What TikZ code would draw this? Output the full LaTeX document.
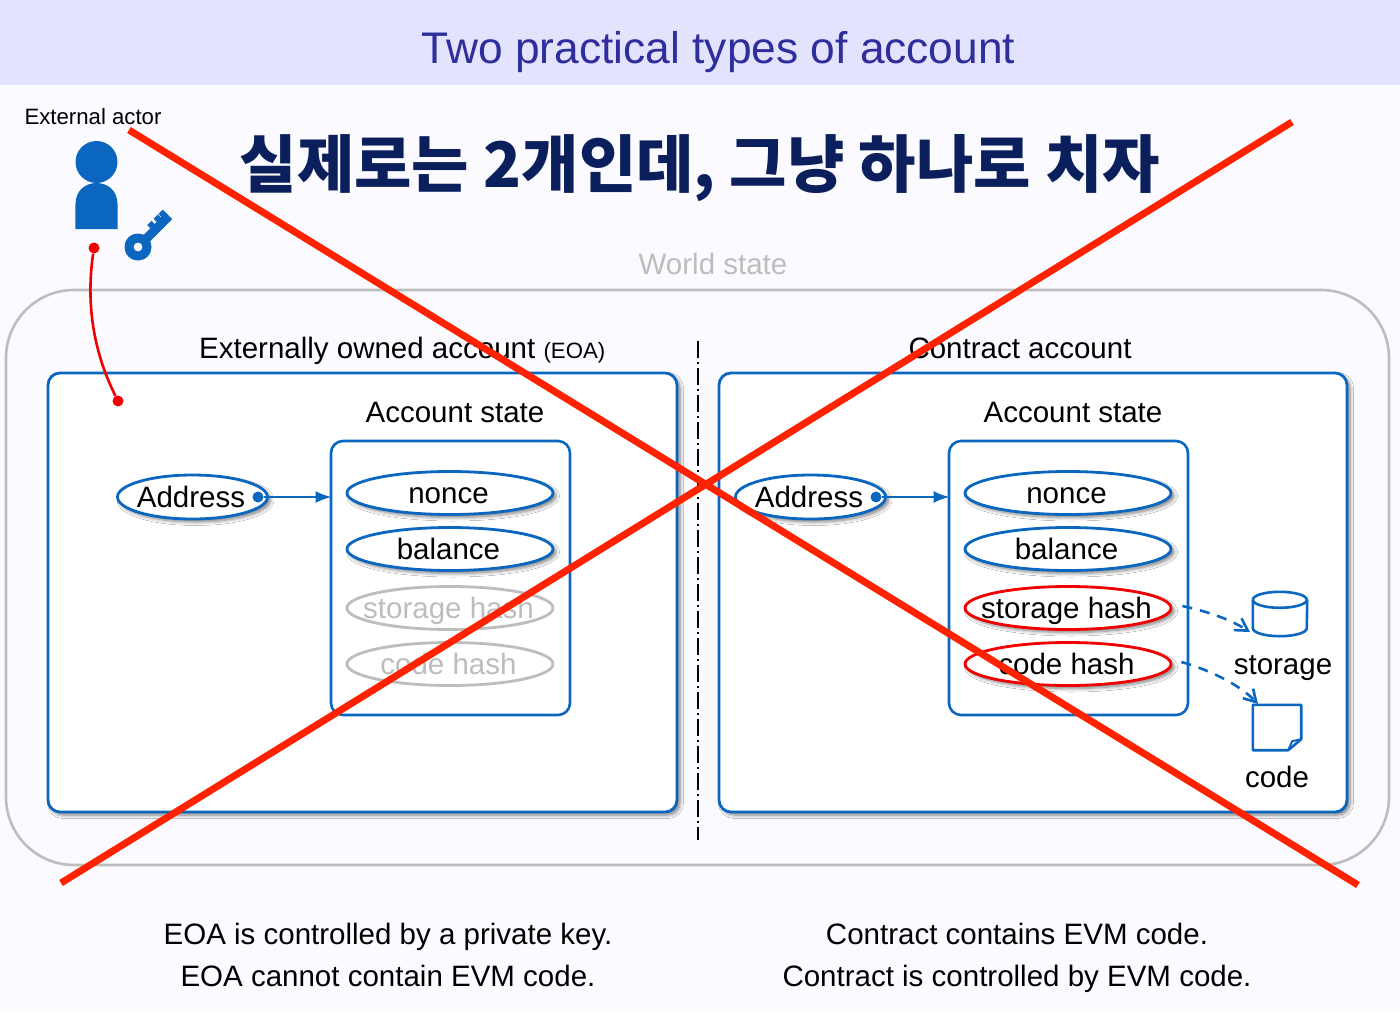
\documentclass[tikz,border=0pt]{standalone}
\usepackage{fontspec}
\setmainfont{Liberation Sans}
\newfontfamily\cjk{Noto Sans CJK KR}
\usetikzlibrary{arrows.meta,shapes.geometric,shadows.blur,calc}
\definecolor{bgc}{HTML}{FBFBFF}
\definecolor{headc}{HTML}{E3E3FD}
\definecolor{titlec}{HTML}{2E2E9C}
\definecolor{blu}{HTML}{0A66BE}
\definecolor{gry}{HTML}{BDBDBD}
\definecolor{rd}{HTML}{F00000}
\definecolor{crossc}{HTML}{FF2200}
\definecolor{navy}{HTML}{0A1F5C}
\newcommand{\fs}[1]{\fontsize{#1}{#1}\selectfont}
\newcommand{\ot}[1]{\makebox[0pt]{#1\hspace{3pt}}}
\tikzset{
  shad/.style={blur shadow={shadow xshift=3pt,shadow yshift=-3pt,shadow blur radius=3.5pt,shadow blur steps=6,shadow opacity=50}},
  txt/.style={anchor=base,inner sep=0pt,font=\fs{29.5}},
  panel/.style={draw=blu,line width=2.8pt,rounded corners=12pt,fill=white,shad,inner sep=0pt},
  statebox/.style={draw=blu,line width=2.6pt,rounded corners=12pt,fill=white,inner sep=0pt},
  oval/.style={ellipse,inner sep=0pt,minimum width=206pt,minimum height=43pt,line width=2.8pt,font=\fs{29.5},text height=20pt,text depth=0pt},
  field/.style={oval,draw=blu,fill=white,shad},
  ghost/.style={oval,draw=gry,text=gry},
  hot/.style={oval,draw=rd,fill=white,shad},
  addr/.style={oval,draw=blu,fill=white,shad,minimum width=150pt,minimum height=44pt},
  flow/.style={draw=blu,line width=2.6pt,shorten >=-2pt,-{Latex[length=16pt,width=12pt]}},
  lnk/.style={draw=blu,line width=2.6pt,dash pattern=on 10pt off 8pt,-{Straight Barb[length=12pt,width=14pt]}},
  cross/.style={draw=crossc,line width=7pt},
  dotb/.style={circle,fill=blu,inner sep=0pt,minimum size=11pt},
  dotr/.style={circle,fill=rd,inner sep=0pt,minimum size=11pt},
  ic/.style={draw=blu,line width=2.6pt,line join=round},
}
\begin{document}
\begin{tikzpicture}[x=1pt,y=-1pt]
\useasboundingbox (0,0) rectangle (1400,1012);
\fill[bgc] (0,0) rectangle (1400,1012);
\fill[headc] (0,0) rectangle (1400,85);
\node[txt,text=titlec,font=\fs{44.3}] (title) at (718.5,63) {Two practical types of account};
\node[txt,font=\fs{22.2}] (actorlab) at (93,124) {External actor};
\node[anchor=base,inner sep=0pt,text=navy] (kor) at (700,187) {\scalebox{0.945}[0.95]{\cjk\bfseries\fs{66}실제로는 2개인데, 그냥 하나로 치자}};
\node[txt,text=gry] (world) at (713,274) {World state};
% world box
\node[draw=gry,line width=2.6pt,rounded corners=68pt,minimum width=1383pt,minimum height=575pt,inner sep=0pt] (wbox) at (697.5,577.5) {};
% panels
\node[panel,minimum width=629pt,minimum height=439pt] (pl) at (362.5,592.5) {};
\node[panel,minimum width=628pt,minimum height=439pt] (pr) at (1033,592.5) {};
\node[txt,anchor=base west] (eoat) at (199,358) {Externally owned account {\fs{22.2}(EOA)}};
\node[txt] (cat) at (1020,358) {Contract account};
\coordinate (dt) at (698,341);
\coordinate (db) at (698,840);
\draw[line width=1.2pt,dash pattern=on 17pt off 4pt on 2pt off 4pt] (dt) -- (db);
\node[txt] (asl) at (455,422) {Account state};
\node[txt] (asr) at (1073,422) {Account state};
\node[statebox,minimum width=239pt,minimum height=274pt] (sl) at (450.5,578) {};
\node[statebox,minimum width=239pt,minimum height=274pt] (sr) at (1068.5,578) {};
% left ovals
\node[addr] (al) at (192.5,497) {\ot{Address}};
\node[field] (nl) at (450,493) {\ot{nonce}};
\node[field] (bl) at (450,549) {\ot{balance}};
\node[ghost] (shl) at (450,608) {\ot{storage hash}};
\node[ghost] (chl) at (450,664) {\ot{code hash}};
% right ovals
\node[addr] (ar) at (810.5,497) {\ot{Address}};
\node[field] (nr) at (1068,493) {\ot{nonce}};
\node[field] (br) at (1068,549) {\ot{balance}};
\node[hot] (shr) at (1068,608) {\ot{storage hash}};
\node[hot] (chr) at (1068,664) {\ot{code hash}};
% address arrows
\node[dotb] (dl) at (258,497) {};
\node[dotb] (dr) at (876,497) {};
\draw[flow] (dl) -- (sl.west |- dl);
\draw[flow] (dr) -- (sr.west |- dr);
% storage icon
\node[inner sep=0pt,minimum width=54pt,minimum height=44pt] (cyl) at (1280,614) {};
\draw[ic,fill=white] ($(cyl.north west)+(0,8)$) -- ($(cyl.south west)+(0,-8)$) arc[start angle=180,end angle=360,x radius=27pt,y radius=8pt] -- ($(cyl.north east)+(0,8)$);
\draw[ic] ($(cyl.north west)+(0,8)$) arc[start angle=180,end angle=-180,x radius=27pt,y radius=8pt];
\node[txt] (stl) at (1283,674) {storage};
% code icon
\node[inner sep=0pt,minimum width=48pt,minimum height=45pt] (doc) at (1277,727.5) {};
\draw[ic,fill=white] (doc.north west) -- (doc.north east) -- ($(doc.south east)+(0,-11)$) -- ($(doc.south east)+(-13,0)$) -- (doc.south west) -- cycle;
\draw[ic,line width=2pt] ($(doc.south east)+(0,-11)$) -- ($(doc.south east)+(-9,-9)$) -- ($(doc.south east)+(-13,0)$);
\node[txt] (cdl) at (1277,787) {code};
% dashed links
\coordinate (ss) at ($(shr.east)+(10,-2)$);
\coordinate (cs) at ($(chr.east)+(9,-2)$);
\coordinate (se) at (1250,632);
\coordinate (ce) at (1258,704);
\draw[lnk] (ss) .. controls (1205,611) and (1228,618) .. (se);
\draw[lnk] (cs) .. controls (1210,670) and (1240,685) .. (ce);
% actor
\fill[blu] (96.5,162) circle[radius=21];
\node[inner sep=0pt,minimum width=42pt,minimum height=46pt] (body) at (96.5,206) {};
\fill[blu] (body.south west) -- (75.5,204) .. controls (75.5,191) and (85,183) .. (96.5,183) .. controls (108,183) and (117.5,191) .. (117.5,204) -- (body.south east) -- cycle;
% key
\begin{scope}[shift={(138,247)},rotate=45]
\fill[blu,even odd rule] (0,0) circle[radius=13.5] (0,0) circle[radius=4.5];
\fill[blu] (10,-4.5) rectangle (44,4.5);
\fill[blu] (22,-9) rectangle (28,-3) (31,-9) rectangle (37,-3) (38,-9) rectangle (44,-3);
\end{scope}
% red link
\node[dotr] (ra) at (94,248) {};
\node[dotr] (rb) at (118,401) {};
\draw[rd,line width=2.6pt] (ra) .. controls (87,295) and (90,345) .. (rb);
% bottom texts
\node[txt] (b1) at (388,944) {EOA is controlled by a private key.};
\node[txt] (b2) at (388,986) {EOA cannot contain EVM code.};
\node[txt] (b3) at (1017,944) {Contract contains EVM code.};
\node[txt] (b4) at (1017,986) {Contract is controlled by EVM code.};
% cross
\coordinate (x1) at (129,130);
\coordinate (x2) at (1358,885);
\coordinate (x3) at (1292,122);
\coordinate (x4) at (61,883);
\draw[cross] (x1) -- (x2);
\draw[cross] (x3) -- (x4);
\end{tikzpicture}
\end{document}
